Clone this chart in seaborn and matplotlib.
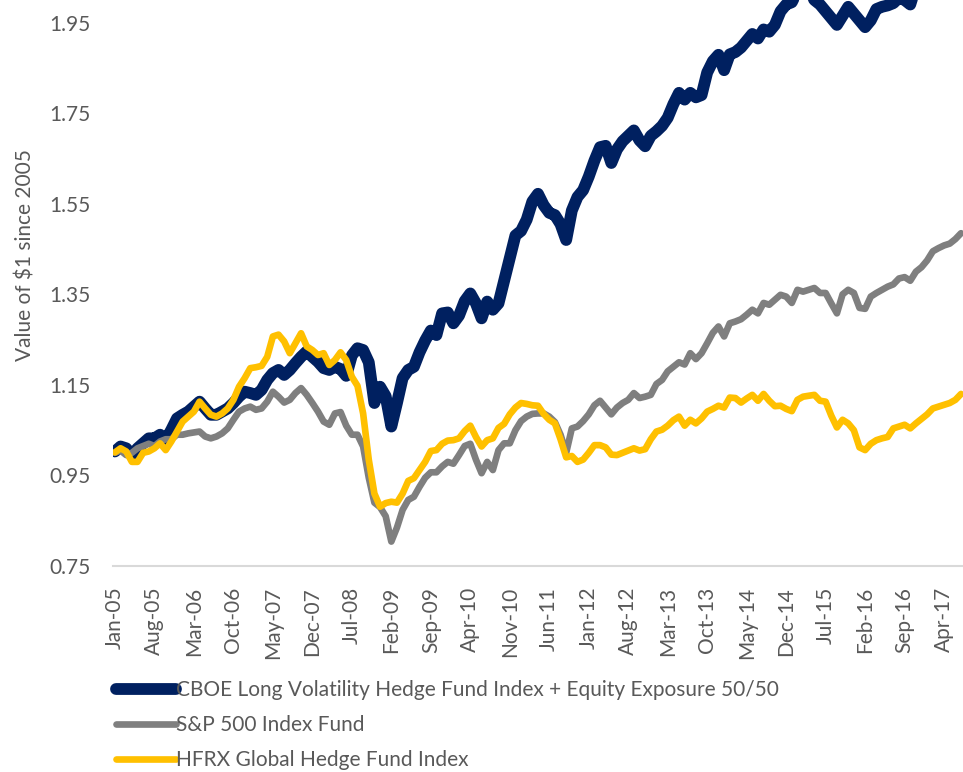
import numpy as np
import pandas as pd
import matplotlib
matplotlib.use('Agg')
import matplotlib.pyplot as plt
import seaborn as sns

sns.set_style('white')
plt.rcParams['font.family'] = ['Lato', 'DejaVu Sans']

# monthly values, Jan-05 .. Jul-17
cboe = [
    1.003, 1.014, 1.010, 0.995, 1.010, 1.021, 1.032, 1.032, 1.040, 1.028,
    1.051, 1.076, 1.084, 1.091, 1.102, 1.113, 1.098, 1.084, 1.084, 1.091,
    1.098, 1.110, 1.124, 1.135, 1.132, 1.128, 1.139, 1.161, 1.176, 1.183,
    1.172, 1.183, 1.198, 1.212, 1.224, 1.212, 1.201, 1.187, 1.183, 1.190,
    1.185, 1.170, 1.215, 1.231, 1.227, 1.200, 1.110, 1.146, 1.125, 1.058,
    1.110, 1.165, 1.183, 1.190, 1.222, 1.248, 1.270, 1.260, 1.308, 1.310,
    1.286, 1.303, 1.335, 1.352, 1.330, 1.297, 1.334, 1.316, 1.330, 1.380,
    1.430, 1.480, 1.490, 1.515, 1.555, 1.572, 1.547, 1.530, 1.525, 1.505,
    1.470, 1.535, 1.565, 1.580, 1.610, 1.645, 1.675, 1.678, 1.640, 1.670,
    1.688, 1.700, 1.712, 1.690, 1.677, 1.700, 1.710, 1.722, 1.740, 1.770,
    1.795, 1.780, 1.795, 1.785, 1.790, 1.840, 1.865, 1.879, 1.845, 1.880,
    1.885, 1.895, 1.910, 1.925, 1.915, 1.935, 1.930, 1.945, 1.975, 1.990,
    1.995, 2.020, 2.030, 2.020, 2.000, 1.990, 1.975, 1.960, 1.945, 1.965,
    1.985, 1.970, 1.955, 1.940, 1.955, 1.980, 1.985, 1.988, 1.993, 2.005,
    2.000, 1.990, 2.030, 2.040, 2.050, 2.060, 2.070, 2.070, 2.080, 2.090,
    2.100]

sp500 = [
    1.000, 1.005, 0.995, 1.000, 1.010, 1.015, 1.020, 1.015, 1.025, 1.030,
    1.030, 1.040, 1.040, 1.043, 1.045, 1.047, 1.036, 1.032, 1.036, 1.043,
    1.054, 1.073, 1.091, 1.098, 1.102, 1.095, 1.098, 1.113, 1.135, 1.124,
    1.111, 1.117, 1.132, 1.143, 1.128, 1.110, 1.091, 1.069, 1.062, 1.087,
    1.090, 1.060, 1.040, 1.040, 1.014, 0.945, 0.890, 0.880, 0.860, 0.804,
    0.835, 0.874, 0.896, 0.903, 0.925, 0.945, 0.957, 0.957, 0.970, 0.980,
    0.976, 0.995, 1.015, 1.020, 0.985, 0.955, 0.980, 0.962, 1.006, 1.021,
    1.021, 1.050, 1.070, 1.080, 1.086, 1.087, 1.087, 1.080, 1.068, 1.040,
    1.000, 1.054, 1.058, 1.070, 1.085, 1.105, 1.115, 1.100, 1.085, 1.100,
    1.110, 1.117, 1.132, 1.121, 1.124, 1.128, 1.152, 1.161, 1.180, 1.190,
    1.200, 1.195, 1.220, 1.207, 1.220, 1.242, 1.265, 1.279, 1.257, 1.286,
    1.290, 1.295, 1.305, 1.316, 1.308, 1.331, 1.327, 1.338, 1.349, 1.345,
    1.331, 1.360, 1.356, 1.360, 1.364, 1.353, 1.353, 1.330, 1.308, 1.350,
    1.360, 1.353, 1.320, 1.318, 1.345, 1.353, 1.360, 1.367, 1.372, 1.385,
    1.388, 1.380, 1.400, 1.410, 1.425, 1.445, 1.452, 1.458, 1.462, 1.472,
    1.485]

hfrx = [
    1.001, 1.010, 1.003, 0.980, 0.980, 1.000, 1.003, 1.010, 1.021, 1.006,
    1.025, 1.047, 1.069, 1.080, 1.091, 1.113, 1.098, 1.084, 1.080, 1.087,
    1.098, 1.117, 1.146, 1.165, 1.187, 1.189, 1.192, 1.212, 1.257, 1.261,
    1.246, 1.220, 1.242, 1.264, 1.235, 1.227, 1.216, 1.220, 1.194, 1.205,
    1.222, 1.205, 1.168, 1.148, 1.087, 0.985, 0.910, 0.881, 0.889, 0.892,
    0.890, 0.910, 0.938, 0.944, 0.962, 0.980, 1.004, 1.006, 1.020, 1.027,
    1.028, 1.032, 1.048, 1.060, 1.035, 1.014, 1.028, 1.032, 1.055, 1.064,
    1.085, 1.100, 1.110, 1.108, 1.105, 1.104, 1.086, 1.073, 1.065, 1.030,
    0.990, 0.993, 0.980, 0.985, 1.000, 1.017, 1.017, 1.012, 0.996, 0.995,
    1.000, 1.005, 1.010, 1.005, 1.008, 1.030, 1.047, 1.051, 1.060, 1.072,
    1.080, 1.060, 1.073, 1.065, 1.076, 1.091, 1.097, 1.104, 1.100, 1.122,
    1.121, 1.111, 1.120, 1.128, 1.115, 1.130, 1.115, 1.103, 1.104, 1.097,
    1.092, 1.117, 1.124, 1.126, 1.128, 1.115, 1.113, 1.082, 1.056, 1.073,
    1.065, 1.050, 1.012, 1.006, 1.020, 1.028, 1.032, 1.035, 1.054, 1.058,
    1.062, 1.054, 1.065, 1.075, 1.085, 1.098, 1.102, 1.106, 1.110, 1.117,
    1.130]

series_names = ['CBOE Long Volatility Hedge Fund Index + Equity Exposure 50/50',
                'S&P 500 Index Fund',
                'HFRX Global Hedge Fund Index']
series_colors = ['#002060', '#7F7F7F', '#FFC000']
series_widths = [8.5, 4.8, 4.8]

months = pd.date_range('2005-01-01', periods=len(cboe), freq='MS')
idx = np.arange(len(months))

fig = plt.figure(figsize=(9.63, 7.72), dpi=100)
ax = fig.add_axes([0.1173, 0.2668, 0.8827, 0.7332])

for vals, name, col, lw in zip([cboe, sp500, hfrx], series_names, series_colors, series_widths):
    sns.lineplot(x=idx, y=vals, color=col, linewidth=lw, label=name, ax=ax,
                 solid_capstyle='round', solid_joinstyle='round')

ax.set_xlim(-0.35, 150.35)
ax.set_ylim(0.75, 2.0)
ax.set_yticks(np.arange(0.75, 2.0, 0.2))
ax.set_yticklabels(['%.2f' % t for t in np.arange(0.75, 2.0, 0.2)])
ax.set_xticks(idx[::7])
ax.set_xticklabels(months[::7].strftime('%b-%y'), rotation=90)

for s in ['top', 'right', 'left']:
    ax.spines[s].set_visible(False)
ax.spines['bottom'].set_color('#D9D9D9')
ax.spines['bottom'].set_linewidth(1.5)
ax.tick_params(axis='y', length=0, labelsize=15, labelcolor='#595959', pad=16)
ax.tick_params(axis='x', length=4, width=1.2, color='#D9D9D9', labelsize=15,
               labelcolor='#595959', pad=11)
ax.set_xlabel('')
ax.set_ylabel('')
fig.text(25/963, 1 - 255/772, 'Value of $1 since 2005', rotation=90,
         ha='center', va='center', fontsize=15, color='#595959')

ax.get_legend().remove()
h, l = ax.get_legend_handles_labels()
leg = fig.legend(h, l, loc='upper left', bbox_to_anchor=(116/963, 1 - 680/772),
                 frameon=False, fontsize=15, handlelength=2.9, handletextpad=0.0,
                 labelspacing=0.72, borderpad=0, borderaxespad=0)
for t in leg.get_texts():
    t.set_color('#595959')

fig.savefig('out.png', dpi=100)
